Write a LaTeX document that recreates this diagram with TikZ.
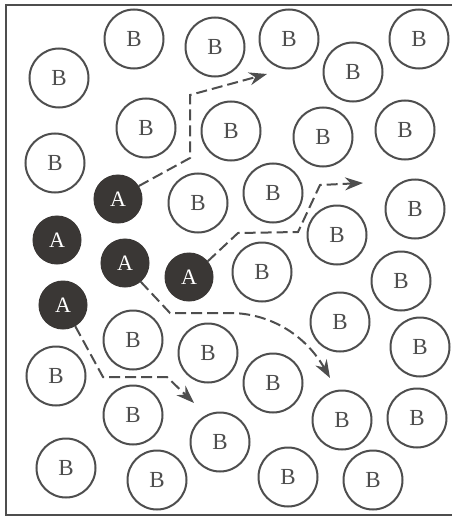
\documentclass[tikz,border=0pt]{standalone}
\usepackage{fontspec}
\setmainfont{Liberation Serif}
\usetikzlibrary{arrows.meta}
\definecolor{lineg}{RGB}{78,78,78}
\definecolor{afill}{RGB}{58,55,53}
\begin{document}
\begin{tikzpicture}[x=1pt,y=-1pt,
  bmol/.style={circle,draw=lineg,line width=2pt,minimum size=59pt,inner sep=0pt,text=lineg,font=\fontsize{23}{23}\selectfont},
  amol/.style={circle,draw=afill,fill=afill,line width=1pt,minimum size=48pt,inner sep=0pt,text=white,font=\fontsize{22}{22}\selectfont},
  path/.style={draw=lineg,line width=2pt,dash pattern=on 11pt off 5pt,-{Stealth[length=18pt,width=13pt,fill=lineg]}},
  frame/.style={draw=lineg,line width=2pt}]
\useasboundingbox (0,0) rectangle (451,516);
\fill[white] (0,0) rectangle (451,516);
\draw[frame] (452,5) -- (6,5) -- (6,515) -- (452,515);
% B molecules
\foreach \n/\x/\y in {b1/134/39, b2/215/47, b3/289/39, b4/353/72, b5/419/39,
  b6/59/78, b7/146/128, b8/231/131, b9/323/137, b10/405/130,
  b11/55/163, b12/198/203, b13/273/193, b14/415/209, b15/337/235,
  b16/262/272, b17/401/281, b18/133/340, b19/208/353, b20/340/322,
  b21/420/347, b22/56/376, b23/273/383, b24/133/415, b25/220/442,
  b26/342/420, b27/417/418, b28/66/468, b29/157/480, b30/288/477, b31/373/480}
  \node[bmol] (\n) at (\x,\y) {B};
% A molecules
\node[amol] (a1) at (118,199) {A};
\node[amol] (a2) at (57,240) {A};
\node[amol] (a3) at (125,263) {A};
\node[amol] (a4) at (189,277) {A};
\node[amol] (a5) at (63,305) {A};
% paths
\coordinate (e1) at (267,74);
\coordinate (e2) at (363,183);
\coordinate (e3) at (330,378);
\coordinate (e4) at (194,403);
\draw[path] (a1.32) -- (190,158) -- (190,95) -- (e1);
\draw[path] (a4.40) -- (238,233) -- (298,232) -- (320,185) -- (e2);
\draw[path] (a3.-50) -- (170,313) -- (232,313) .. controls (272,314) and (306,336) .. (e3);
\draw[path] (a5.-60) -- (103,377) -- (167,377) -- (e4);
\end{tikzpicture}
\end{document}
